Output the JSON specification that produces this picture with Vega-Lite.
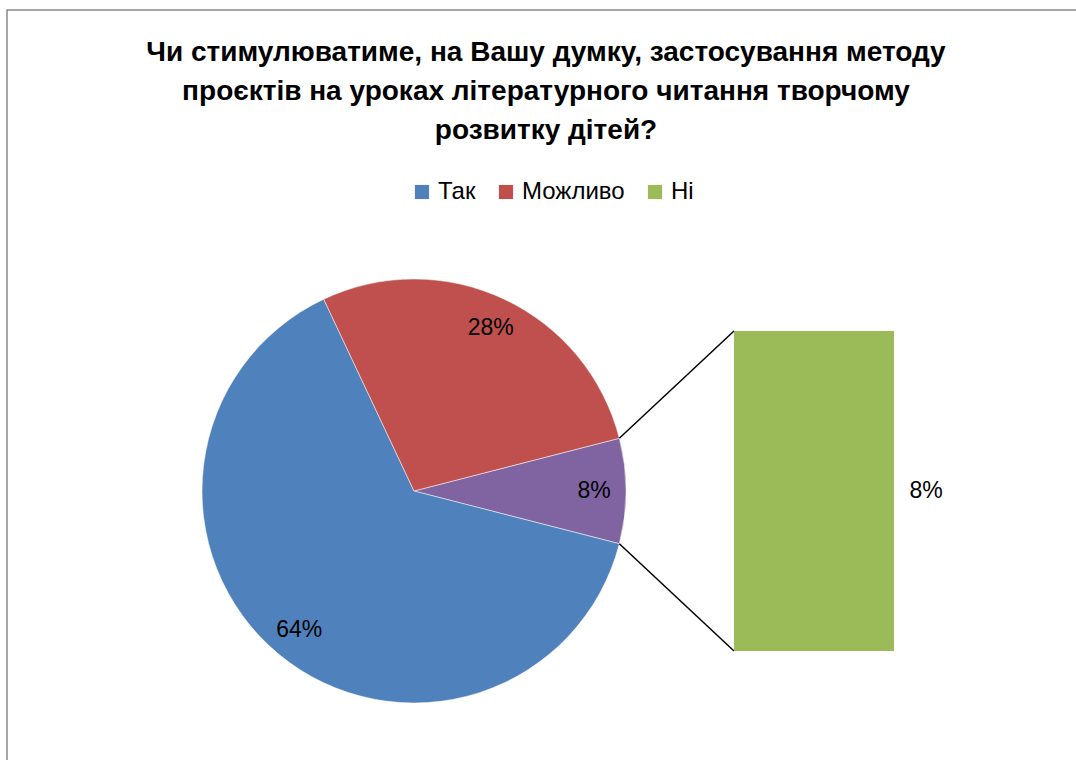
{
  "$schema": "https://vega.github.io/schema/vega-lite/v6.json",
  "width": 1076,
  "height": 590,
  "autosize": {"type": "none"},
  "padding": {"left": 0, "top": 170, "right": 0, "bottom": 0},
  "background": "white",
  "config": {
    "view": {"stroke": null},
    "font": "Liberation Sans"
  },
  "title": {
    "text": ["Чи стимулюватиме, на Вашу думку, застосування методу", "проєктів на уроках літературного читання творчому", "розвитку дітей?"],
    "anchor": "middle",
    "frame": "group",
    "dx": 8,
    "offset": -136,
    "font": "Liberation Sans",
    "fontSize": 28,
    "fontWeight": "bold",
    "lineHeight": 39,
    "color": "#000000"
  },
  "datasets": {
    "pie": [
      {"answer": "Інше", "share": 0.08, "order": 1},
      {"answer": "Так", "share": 0.64, "order": 2},
      {"answer": "Можливо", "share": 0.28, "order": 3}
    ],
    "bar": [
      {"answer": "Ні", "share": 0.08}
    ],
    "frame": [{"part": "frame"}],
    "upper": [{"edge": "upper"}],
    "lower": [{"edge": "lower"}]
  },
  "layer": [
    {
      "data": {"name": "frame"},
      "mark": {"type": "rect", "fill": null, "stroke": "#898989", "strokeWidth": 1.5},
      "encoding": {
        "x": {"datum": -0.10175, "type": "quantitative", "scale": {"domain": [-0.1035, 0.1655], "nice": false, "zero": false}, "axis": null},
        "x2": {"datum": 0.18},
        "y": {"datum": 0.16025, "type": "quantitative", "scale": {"domain": [-0.02725, 0.12025], "nice": false, "zero": false}, "axis": null},
        "y2": {"datum": -0.04}
      }
    },
    {
      "data": {"name": "pie"},
      "mark": {"type": "arc", "radius": 212, "stroke": "#ffffff", "strokeWidth": 0.5},
      "encoding": {
        "x": {"datum": 0, "type": "quantitative"},
        "y": {"datum": 0.04, "type": "quantitative"},
        "theta": {"field": "share", "type": "quantitative", "stack": true, "scale": {"range": [1.3195, 7.6027]}},
        "order": {"field": "order", "type": "quantitative"},
        "color": {
          "field": "answer",
          "type": "nominal",
          "scale": {"domain": ["Так", "Можливо", "Ні", "Інше"], "range": ["#4F81BD", "#C0504D", "#9BBB59", "#8064A2"]},
          "legend": {
            "values": ["Так", "Можливо", "Ні"],
            "title": null,
            "orient": "none",
            "direction": "horizontal",
            "legendX": 410,
            "legendY": 10,
            "symbolType": "square",
            "symbolSize": 200,
            "symbolStrokeWidth": 0,
            "symbolOpacity": 1,
            "labelFont": "Liberation Sans",
            "labelFontSize": 24,
            "labelColor": "#000000",
            "labelOffset": 4,
            "columnPadding": 18,
            "padding": 0
          }
        }
      }
    },
    {
      "data": {"name": "pie"},
      "mark": {"type": "text", "radius": 180, "font": "Liberation Sans", "fontSize": 23, "color": "#000000"},
      "encoding": {
        "x": {"datum": 0, "type": "quantitative"},
        "y": {"datum": 0.04, "type": "quantitative"},
        "theta": {"field": "share", "type": "quantitative", "stack": true, "scale": {"range": [1.3195, 7.6027]}},
        "order": {"field": "order", "type": "quantitative"},
        "text": {"field": "share", "type": "quantitative", "format": ".0%"}
      }
    },
    {
      "data": {"name": "upper"},
      "mark": {"type": "rule", "color": "#000000", "strokeWidth": 1.5},
      "encoding": {
        "x": {"datum": 0.051335, "type": "quantitative"},
        "y": {"datum": 0.053181, "type": "quantitative"},
        "x2": {"datum": 0.08},
        "y2": {"datum": 0.08}
      }
    },
    {
      "data": {"name": "lower"},
      "mark": {"type": "rule", "color": "#000000", "strokeWidth": 1.5},
      "encoding": {
        "x": {"datum": 0.051335, "type": "quantitative"},
        "y": {"datum": 0.026819, "type": "quantitative"},
        "x2": {"datum": 0.08},
        "y2": {"datum": 0}
      }
    },
    {
      "data": {"name": "bar"},
      "mark": {"type": "rect"},
      "encoding": {
        "x": {"datum": 0.08, "type": "quantitative"},
        "x2": {"datum": 0.12},
        "y": {"field": "share", "type": "quantitative"},
        "y2": {"datum": 0},
        "color": {"field": "answer", "type": "nominal"}
      }
    },
    {
      "data": {"name": "bar"},
      "mark": {"type": "text", "font": "Liberation Sans", "fontSize": 23, "color": "#000000"},
      "encoding": {
        "x": {"datum": 0.128, "type": "quantitative"},
        "y": {"datum": 0.04, "type": "quantitative"},
        "text": {"field": "share", "type": "quantitative", "format": ".0%"}
      }
    }
  ]
}
